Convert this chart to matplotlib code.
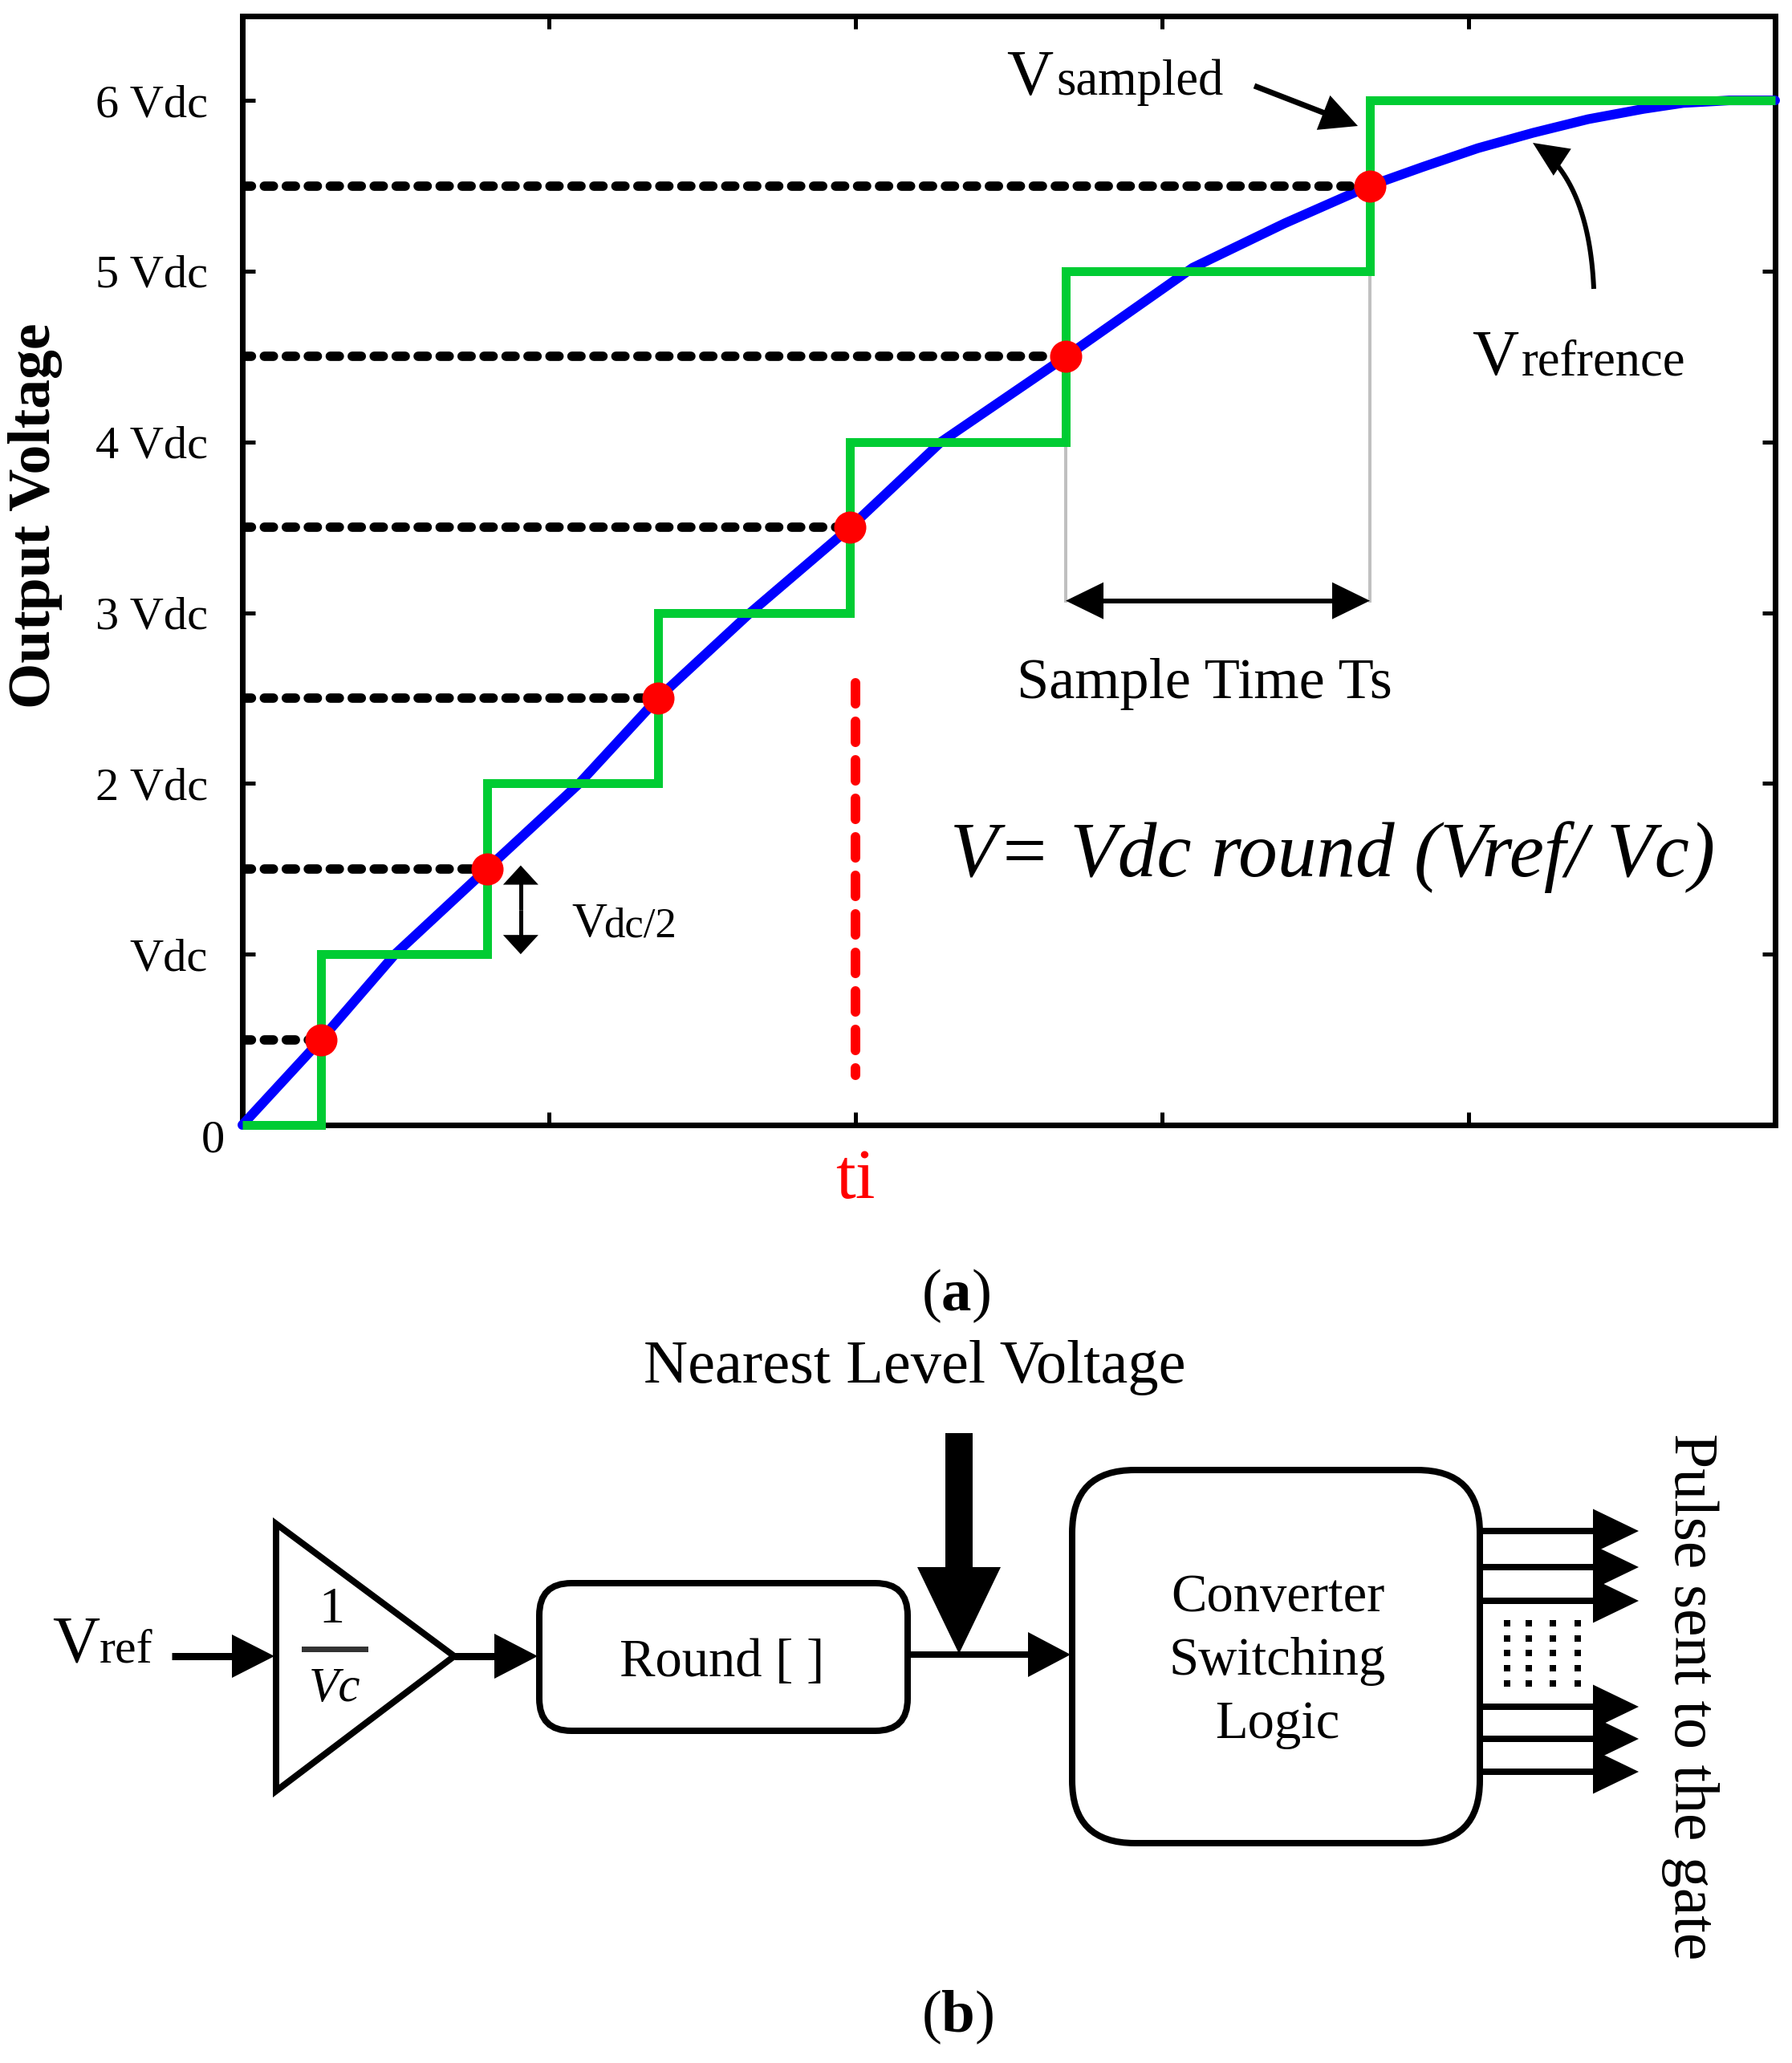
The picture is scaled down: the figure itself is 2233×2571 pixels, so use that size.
import numpy as np
import matplotlib
matplotlib.use('Agg')
import matplotlib.pyplot as plt
from matplotlib.patches import Polygon, FancyBboxPatch
from matplotlib.lines import Line2D

plt.rcParams['font.family'] = ['Liberation Serif', 'DejaVu Serif']
plt.rcParams['mathtext.fontset'] = 'custom'
plt.rcParams['mathtext.rm'] = 'Liberation Serif'
plt.rcParams['mathtext.bf'] = 'Liberation Serif:bold'
plt.rcParams['mathtext.it'] = 'Liberation Serif:italic'

# ---------------- data ----------------
level_ticks = [0, 1, 2, 3, 4, 5, 6]
level_labels = ['0', 'Vdc', '2 Vdc', '3 Vdc', '4 Vdc', '5 Vdc', '6 Vdc']
time_ticks = [1, 2, 3, 4]
sample_times = [0.257, 0.798, 1.356, 1.982, 2.686, 3.678]
sample_values = [0.5, 1.5, 2.5, 3.5, 4.5, 5.5]
step_times = [0.0, 0.257, 0.798, 1.356, 1.982, 2.686, 3.678, 5.0]
step_levels = [0, 1, 2, 3, 4, 5, 6, 6]
ref_times = [0.0, 0.257, 0.498, 0.798, 1.099, 1.356, 1.657, 1.983, 2.279,
             2.687, 3.10, 3.40, 3.678, 3.85, 4.03, 4.21, 4.39, 4.57, 4.70,
             4.85, 5.0]
ref_values = [0.0, 0.5, 1.0, 1.5, 2.0, 2.5, 3.0, 3.5, 4.0,
              4.5, 5.02, 5.28, 5.5, 5.61, 5.72, 5.81, 5.89, 5.95, 5.985,
              6.0, 6.0]
ti_time = 2.0
ti_span = [2.59, 0.29]
ts_arrow_level = 3.07

# ---------------- figure ----------------
W, H, DPI = 2233, 2571, 100
PX = 72.0 / DPI  # points per pixel
fig = plt.figure(figsize=(W / DPI, H / DPI), dpi=DPI)
fig.patch.set_facecolor('white')

ax = fig.add_axes([302 / W, 1 - 1402 / H, 1910 / W, 1382 / H])
ax.set_xlim(0, 5.0)
ax.set_ylim(0, 6.494)

GREEN = '#00cc33'
BLUE = '#0000ff'
RED = '#ff0000'

# reference (blue)
ax.plot(ref_times, ref_values, color=BLUE, lw=12 * PX, solid_capstyle='round',
        solid_joinstyle='round', zorder=3, clip_on=False)
# sampled staircase (green)
ax.step(step_times, step_levels, where='post', color=GREEN, lw=11 * PX,
        solid_joinstyle='miter', solid_capstyle='butt', zorder=4, clip_on=False)
# dashed guides to sample points
for t, v in zip(sample_times, sample_values):
    ax.plot([0, t], [v, v], color='black', lw=11.7 * PX, dashes=(0.97, 1.37),
            dash_capstyle='round', zorder=3.5)
# sample points
ax.plot(sample_times, sample_values, 'o', color=RED, ms=40 * PX,
        mew=0, zorder=6)
# ti red dashed line
ax.plot([ti_time, ti_time], ti_span, color=RED, lw=12 * PX, dashes=(2.17, 1.83),
        dash_capstyle='round', zorder=3)
# grey sample-time guides
ax.plot([sample_times[4], sample_times[4]], [step_levels[5], ts_arrow_level],
        color='#c0c0c0', lw=4 * PX, zorder=2)
ax.plot([sample_times[5], sample_times[5]], [step_levels[6], ts_arrow_level],
        color='#c0c0c0', lw=4 * PX, zorder=2)

# axes styling
for sp in ax.spines.values():
    sp.set_linewidth(7 * PX)
    sp.set_zorder(2.5)
ax.set_xticks(time_ticks)
ax.set_xticklabels([])
ax.set_yticks(level_ticks)
ax.set_yticklabels([''] + level_labels[1:])
ax.tick_params(axis='both', direction='in', length=16 * PX,
               width=5 * PX, top=True, right=True, labelsize=42, pad=31)
ax.set_ylabel('Output Voltage', fontsize=53, fontweight='bold')
ax.yaxis.set_label_coords(-0.1351, 0.5492)
ax.yaxis.label.set_verticalalignment('center')
ax.text(ti_time, -0.428, 'ti', color=RED, fontsize=64, ha='center',
        va='baseline', clip_on=False)

# ---------------- overlay in pixel coordinates ----------------
ov = fig.add_axes([0, 0, 1, 1])
ov.set_xlim(0, W)
ov.set_ylim(H, 0)
ov.axis('off')


def d2p(x, y):
    X, Y = ax.transData.transform((x, y))
    return X, H - Y


def arrow(p0, p1, hl, hw, lw_px, color='black', z=5):
    p0 = np.array(p0, float)
    p1 = np.array(p1, float)
    d = p1 - p0
    u = d / np.hypot(*d)
    n = np.array([-u[1], u[0]])
    base = p1 - u * hl
    end = base + u * 2
    ov.add_line(Line2D([p0[0], end[0]], [p0[1], end[1]], lw=lw_px * PX,
                       color=color, solid_capstyle='butt', zorder=z))
    ov.add_patch(Polygon([p1, base + n * hw / 2, base - n * hw / 2],
                         closed=True, fc=color, ec='none', zorder=z))


def darrow(p0, p1, hl, hw, lw_px):
    mid = ((p0[0] + p1[0]) / 2, (p0[1] + p1[1]) / 2)
    arrow(mid, p0, hl, hw, lw_px)
    arrow(mid, p1, hl, hw, lw_px)


# "0" label
ov.text(280, 1436, level_labels[0], fontsize=42, ha='right', va='baseline')

# Vdc/2 double arrow
darrow(d2p(0.908, 1.52), d2p(0.908, 1.0), 24, 44, 5)
ov.text(712, 1167, 'V', fontsize=44, ha='left', va='baseline')
ov.text(752, 1167, 'dc/2', fontsize=38, ha='left', va='baseline')

# Sample time arrow
darrow(d2p(sample_times[4], ts_arrow_level), d2p(sample_times[5], ts_arrow_level),
       47, 46, 6)
ov.text(1501, 870, 'Sample Time Ts', fontsize=52, ha='center', va='baseline')

# formula
ov.text(1661, 1092, 'V= Vdc round (Vref/ Vc)', fontsize=70, style='italic',
        ha='center', va='baseline')

# V sampled
ov.text(1254, 118, 'V', fontsize=58, ha='left', va='baseline')
ov.text(1316, 118, 'sampled', fontsize=45, ha='left', va='baseline')
arrow((1563, 107), (1692, 157), 46, 46, 7)

# V refrence
ov.text(1834, 467, 'V', fontsize=58, ha='left', va='baseline')
ov.text(1896, 467, 'refrence', fontsize=45, ha='left', va='baseline')
P0 = np.array([1986.0, 360.0])
P1 = np.array([1980.0, 224.0])
P2 = np.array([1910.0, 178.0])
tt = np.linspace(0, 0.86, 60)[:, None]
curve = (1 - tt) ** 2 * P0 + 2 * (1 - tt) * tt * P1 + tt ** 2 * P2
ov.add_line(Line2D(curve[:, 0], curve[:, 1], lw=6 * PX, color='black',
                   solid_capstyle='butt', zorder=5))
tan = (P2 - P1) / np.hypot(*(P2 - P1))
nrm = np.array([-tan[1], tan[0]])
hb = P2 - tan * 44
ov.add_patch(Polygon([P2, hb + nrm * 20, hb - nrm * 20], closed=True,
                     fc='black', ec='none', zorder=5))

# (a)
ov.text(1191, 1633, r'($\mathbf{a}$)', fontsize=54, ha='center', va='baseline')

# ---------------- block diagram (b) ----------------
ov.text(1140, 1723, 'Nearest Level Voltage', fontsize=55, ha='center',
        va='baseline')

ov.text(65, 2071, 'V', fontsize=59, ha='left', va='baseline')
ov.text(124, 2071, 'ref', fontsize=43, ha='left', va='baseline')
arrow((214, 2064), (342, 2064), 53, 54, 9)

ov.add_patch(Polygon([(344, 1899), (344, 2232), (566, 2064)], closed=True,
                     fc='white', ec='black', lw=8 * PX, joinstyle='miter',
                     zorder=4))
ov.text(413, 2022, '1', fontsize=46, ha='center', va='baseline', zorder=6)
ov.add_line(Line2D([379, 455], [2055, 2055], lw=7 * PX, color='#333333',
                   zorder=6))
ov.text(417, 2120, 'Vc', fontsize=44, style='italic', ha='center',
        va='baseline', zorder=6)

arrow((566, 2064), (670, 2064), 54, 56, 9)

ov.add_patch(FancyBboxPatch((672, 1973), 459, 184,
                            boxstyle='round,pad=0,rounding_size=40',
                            fc='white', ec='black', lw=8 * PX, zorder=4))
ov.text(900, 2089, 'Round [ ]', fontsize=48, ha='center', va='baseline',
        zorder=6)

arrow((1131, 2062), (1334, 2062), 53, 56, 8)

ov.add_patch(Polygon([(1178, 1786), (1212, 1786), (1212, 1953), (1247, 1953),
                      (1195, 2061), (1143, 1953), (1178, 1953)], closed=True,
                     fc='black', ec='none', zorder=5))

ov.add_patch(FancyBboxPatch((1336, 1832), 508, 465,
                            boxstyle='round,pad=0,rounding_size=78',
                            fc='white', ec='black', lw=8 * PX, zorder=4))
for txt, yb in zip(['Converter', 'Switching', 'Logic'], [2008, 2087, 2166]):
    ov.text(1592, yb, txt, fontsize=48, ha='center', va='baseline', zorder=6)

for yy in [1908, 1953, 1995, 2127, 2167, 2208]:
    arrow((1844, yy), (2042, yy), 57, 55, 8)

dot_x = [1878, 1905, 1935, 1966]
dot_y = [2023, 2042, 2060, 2079, 2098]
gx, gy = np.meshgrid(dot_x, dot_y)
ov.plot(gx.ravel(), gy.ravel(), 's', color='black', ms=8 * PX, mew=0, zorder=5)

ov.text(2106, 2114, 'Pulse sent to the gate', fontsize=56, rotation=-90,
        ha='center', va='center')

ov.text(1193, 2532, r'($\mathbf{b}$)', fontsize=54, ha='center', va='baseline')

fig.savefig('out.png', dpi=DPI, facecolor='white')
